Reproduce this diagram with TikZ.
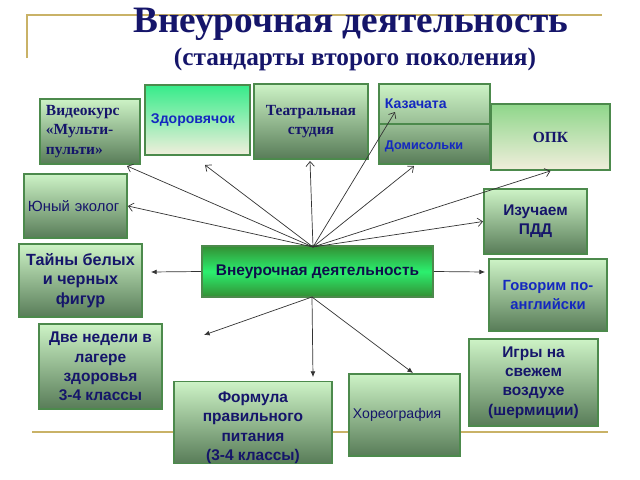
\documentclass[tikz,border=0pt]{standalone}
\usepackage{fontspec}
\setmainfont{Liberation Serif}
\setsansfont{Liberation Sans}
\usetikzlibrary{arrows.meta}

\definecolor{navy}{HTML}{15156A}
\definecolor{brightblue}{HTML}{1428C0}
\definecolor{gold}{HTML}{C9B267}
\definecolor{boxline}{HTML}{4C8A4C}
\definecolor{gtop}{HTML}{CDF3C6}
\definecolor{gbot}{HTML}{587C58}
\definecolor{mint}{HTML}{36EC8A}
\definecolor{opkgreen}{HTML}{8ED68A}
\definecolor{cream}{HTML}{F1EEDC}

\begin{document}
\begin{tikzpicture}[x=0.025cm,y=-0.025cm,
  box/.style={draw=boxline,line width=1.3pt,top color=gtop,bottom color=gbot,
    inner sep=0pt,align=center,text=navy,font=\sffamily\bfseries\fontsize{11}{13.7}\selectfont},
  lbox/.style={box,align=left,inner xsep=0.15cm},
  fresh/.style={top color=mint,bottom color=cream},
  serifbox/.style={font=\rmfamily\bfseries\fontsize{11}{13.9}\selectfont},
  arr/.style={draw=black!80,line width=0.5pt,-{Straight Barb[length=3.5pt,width=6pt]}},
  arrf/.style={draw=black!80,line width=0.5pt,-{Latex[length=4pt,width=3.5pt]}}]
\useasboundingbox (0,0) rectangle (640,480);

% gold frame lines
\draw[gold,line width=1pt] (27,58) -- (27,15) -- (602,15);
\draw[gold,line width=1pt] (32,432) -- (608,432);

% title
\node[anchor=base,text=navy,font=\rmfamily\bfseries\fontsize{26.5}{30}\selectfont] (title) at (351,32) {Внеурочная деятельность};
\node[anchor=base,text=navy,font=\rmfamily\bfseries\fontsize{18}{22}\selectfont] (subtitle) at (355,65) {(стандарты второго поколения)};

% boxes
\node[lbox,serifbox,minimum width=2.5cm,minimum height=1.625cm,text width=2.2cm] (vid) at (90,131.5) {Видеокурс\\«Мульти-\\пульти»};
\node[lbox,fresh,minimum width=2.625cm,minimum height=1.75cm,text width=2.325cm,text=brightblue,
  font=\sffamily\bfseries\fontsize{10}{12}\selectfont] (zdr) at (197.5,120) {Здоровячок};
\node[box,serifbox,minimum width=2.85cm,minimum height=1.875cm] (teatr) at (311,121.5) {Театральная\\студия};
\node[lbox,minimum width=2.775cm,minimum height=1cm,text width=2.475cm,text=brightblue,top color=gtop,bottom color=gtop!55!gbot,
  font=\sffamily\bfseries\fontsize{10}{12}\selectfont] (kaz) at (434.5,104) {Казачата\\[4pt]};
\node[lbox,minimum width=2.775cm,minimum height=1cm,text width=2.475cm,text=brightblue,top color=gtop!55!gbot,bottom color=gbot,
  font=\sffamily\bfseries\fontsize{9}{11}\selectfont] (dom) at (434.5,144) {\\[-2pt]Домисольки};
\node[box,serifbox,top color=opkgreen,bottom color=cream,minimum width=2.975cm,minimum height=1.65cm] (opk) at (550.5,137) {ОПК};
\node[lbox,minimum width=2.575cm,minimum height=1.6cm,text width=2.375cm,inner xsep=0.1cm,
  font=\sffamily\fontsize{10.5}{12.5}\selectfont] (eco) at (75.5,206) {Юный эколог};
\node[box,minimum width=2.575cm,minimum height=1.625cm] (pdd) at (535.5,221.5) {Изучаем\\ПДД};
\node[box,minimum width=3.075cm,minimum height=1.825cm,font=\sffamily\bfseries\fontsize{11.5}{13.7}\selectfont] (tain) at (80.5,280.5) {Тайны белых\\и черных\\фигур};
\node[box,minimum width=5.775cm,minimum height=1.275cm,top color=green!45!black!80,bottom color=green!45!black!80,
  middle color=mint!80!green,text=navy!70!black] (main) at (317.5,271.5) {Внеурочная деятельность};
\node[box,minimum width=2.95cm,minimum height=1.8cm,text=brightblue,font=\sffamily\bfseries\fontsize{10.5}{13.5}\selectfont] (eng) at (548,295) {Говорим по-\\английски};
\node[box,minimum width=3.075cm,minimum height=2.125cm] (lager) at (100.5,366.5) {Две недели в\\лагере\\здоровья\\3-4 классы};
\node[box,minimum width=3.225cm,minimum height=2.175cm] (igry) at (533.5,382.5) {Игры на\\свежем\\воздухе\\(шермиции)};
\node[box,minimum width=3.95cm,minimum height=1.925cm] (formula) at (253,422.5) {\rule{0pt}{15pt}Формула\\правильного\\питания\\(3-4 классы)};
\node[lbox,minimum width=2.775cm,minimum height=2.05cm,text width=2.575cm,inner xsep=0.1cm,
  font=\sffamily\fontsize{10}{12}\selectfont] (hor) at (404.5,415) {Хореография};

% arrow ends
\coordinate (hub) at (313,247);
\coordinate (bhub) at (312,297);
\coordinate (vidtip) at (127,166);
\coordinate (zdrtip) at (205,165);
\coordinate (teatrtip) at (310,161);
\coordinate (kaztip) at (395,112);
\coordinate (domtip) at (414,166);
\coordinate (taintip) at (151,272);
\coordinate (engtip) at (485,272);
\coordinate (lagertip) at (204,335);
\coordinate (formulatip) at (313,377);
\coordinate (hortip) at (413,373);

\draw[arr] (hub) -- (vidtip);
\draw[arr] (hub) -- (zdrtip);
\draw[arr] (hub) -- (teatrtip);
\draw[arr] (hub) -- (eco.east);
\draw[arr] (hub) -- (kaztip);
\draw[arr] (hub) -- (domtip);
\draw[arr] (hub) -- (opk.south);
\draw[arr] (hub) -- (pdd.west);
\draw[arrf] (main.west) -- (taintip);
\draw[arrf] (main.east) -- (engtip);
\draw[arrf] (bhub) -- (lagertip);
\draw[arrf] (bhub) -- (formulatip);
\draw[arrf] (bhub) -- (hortip);
\end{tikzpicture}
\end{document}
